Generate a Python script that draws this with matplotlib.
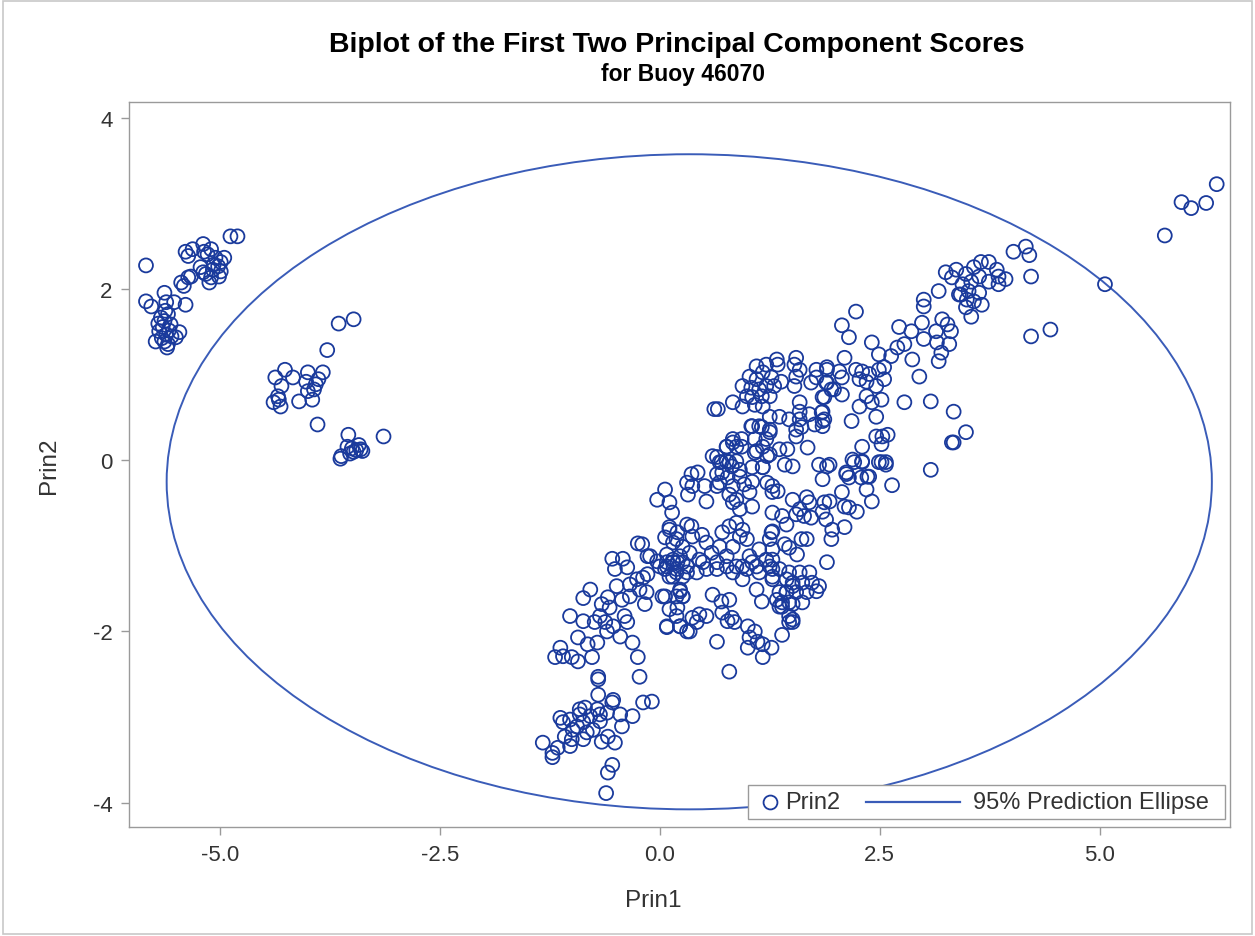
import matplotlib
matplotlib.use("Agg")
import matplotlib.pyplot as plt
from matplotlib.patches import Ellipse, Rectangle
from matplotlib.lines import Line2D

plt.rcParams['font.family'] = ['Liberation Sans', 'DejaVu Sans']

# ---- data: (Prin1, Prin2) scores ----
group_far_left = [(-5.84,2.28),(-4.88,2.62),(-4.80,2.62),(-5.39,2.44),(-5.36,2.39),(-5.31,2.47),
    (-5.19,2.53),(-5.18,2.44),(-5.10,2.47),(-5.14,2.41),(-5.05,2.37),(-4.99,2.32),(-4.95,2.37),
    (-5.02,2.27),(-5.08,2.23),(-4.99,2.21),(-5.01,2.15),(-5.10,2.14),(-5.12,2.08),(-5.16,2.18),
    (-5.22,2.26),(-5.19,2.20),(-5.07,2.29),(-5.41,2.04),(-5.36,2.14),(-5.33,2.15),(-5.44,2.08),
    (-5.84,1.86),(-5.78,1.80),(-5.63,1.96),(-5.61,1.85),(-5.52,1.85),(-5.39,1.82),(-5.67,1.67),
    (-5.63,1.63),(-5.59,1.71),(-5.65,1.56),(-5.56,1.59),(-5.61,1.47),(-5.46,1.50),(-5.63,1.39),
    (-5.73,1.39),(-5.59,1.36),(-5.60,1.32),(-5.50,1.44),(-5.69,1.51),(-5.62,1.75),(-5.58,1.52),
    (-5.55,1.45),(-5.66,1.43),(-5.70,1.60)]

group_left = [(-3.65,1.60),(-3.48,1.65),(-3.78,1.29),(-4.37,0.97),(-4.26,1.06),(-4.17,0.97),
    (-4.30,0.87),(-4.34,0.75),(-4.39,0.68),(-4.31,0.63),(-4.33,0.71),(-4.00,1.03),(-3.83,1.03),
    (-3.88,0.95),(-4.02,0.92),(-3.91,0.89),(-3.93,0.83),(-4.00,0.81),(-3.95,0.71),(-4.10,0.69),
    (-3.89,0.42),(-3.54,0.30),(-3.14,0.28),(-3.55,0.16),(-3.50,0.14),(-3.45,0.12),(-3.40,0.13),
    (-3.48,0.10),(-3.52,0.08),(-3.42,0.18),(-3.38,0.11),(-3.63,0.02),(-3.62,0.05)]

group_low = [(-0.70,-2.56),(-0.70,-2.53),(-0.23,-2.53),(-0.70,-2.74),(-0.53,-2.80),(-0.54,-2.83),
    (-0.19,-2.83),(-0.09,-2.82),(-0.31,-2.99),(-0.45,-2.97),(-0.43,-3.11),(-0.59,-3.23),(-0.51,-3.30),
    (-0.66,-3.29),(-0.54,-3.56),(-0.59,-3.65),(-0.61,-3.89),(-1.13,-3.01),(-1.10,-3.06),(-1.02,-3.03),
    (-0.91,-2.91),(-0.85,-2.89),(-0.87,-3.06),(-0.79,-2.99),(-0.71,-2.91),(-0.68,-2.97),(-0.76,-3.15),
    (-0.83,-3.18),(-0.99,-3.15),(-1.08,-3.23),(-1.00,-3.26),(-0.87,-3.26),(-1.02,-3.34),(-1.16,-3.36),
    (-1.33,-3.30),(-1.22,-3.42),(-1.22,-3.47),(-0.94,-3.11),(-0.91,-2.97),(-0.68,-3.05),(-0.60,-2.95)]

group_mid_low = [(-0.79,-1.51),(-0.87,-1.61),(-0.25,-0.97),(-0.54,-1.15),(-0.42,-1.15),(-0.51,-1.27),
    (-0.37,-1.25),(-0.14,-1.12),(-0.03,-1.18),(0.08,-1.10),(0.15,-1.16),(0.06,-1.27),(-0.49,-1.47),
    (-0.59,-1.60),(-0.66,-1.68),(-0.57,-1.72),(-0.34,-1.45),(-0.26,-1.39),(-0.19,-1.37),(-0.14,-1.33),
    (-0.23,-1.51),(-0.15,-1.54),(-0.17,-1.68),(-0.34,-1.59),(-0.43,-1.63),(0.03,-1.59),(-1.02,-1.82),
    (-0.87,-1.88),(-0.74,-1.89),(-0.68,-1.82),(-0.62,-1.89),(-0.60,-2.00),(-0.53,-1.94),(-0.40,-1.82),
    (-0.37,-1.89),(-0.93,-2.07),(-0.82,-2.15),(-0.71,-2.13),(-0.45,-2.06),(-0.31,-2.13),(-0.25,-2.30),
    (-0.77,-2.30),(-1.13,-2.19),(-1.19,-2.30),(-1.10,-2.29),(-1.00,-2.30),(-0.93,-2.35),(0.11,-1.74),
    (0.19,-1.82),(0.23,-1.94),(0.08,-1.94),(0.31,-2.00),(0.23,-1.51),(0.26,-1.59),(0.11,-0.78),
    (0.20,-0.84),(0.31,-0.75),(0.15,-0.96),(0.20,-1.19),(0.08,-1.19),(0.19,-1.31),(0.19,-1.59)]

group_center = [(0.06,-0.34),(-0.03,-0.46),(0.11,-0.49),(0.14,-0.61),(0.36,-0.16),(0.43,-0.14),
    (0.31,-0.26),(0.37,-0.30),(0.51,-0.30),(0.32,-0.40),(0.53,-0.48),(0.65,0.04),(0.70,-0.02),
    (0.76,-0.01),(0.82,-0.07),(0.87,-0.01),(0.65,-0.16),(0.71,-0.14),(0.77,-0.20),(0.68,-0.26),
    (0.91,-0.19),(0.83,-0.30),(0.65,-0.30),(0.79,-0.40),(0.87,-0.46),(0.91,-0.57),(1.02,-0.37),
    (1.05,-0.54),(0.83,-0.49),(0.76,0.16),(0.83,0.21),(0.93,0.16),(1.05,0.40),(1.13,0.40),(1.25,0.33),
    (1.10,0.11),(1.22,0.05),(1.17,-0.08),(1.22,-0.26),(1.28,-0.37),(1.05,-0.25),(0.96,-0.28),
    (0.36,-0.77),(0.11,-0.81),(0.06,-0.90),(0.19,-0.92),(0.26,-1.01),(0.37,-0.89),(0.48,-0.87),
    (0.53,-0.96),(0.34,-1.08),(0.23,-1.12),(0.15,-1.19),(0.31,-1.24),(0.45,-1.16),(0.59,-1.08),
    (0.68,-1.01),(0.71,-0.84),(0.79,-0.77),(0.87,-0.73),(0.94,-0.81),(0.91,-0.89),(0.99,-0.92),
    (0.83,-1.01),(0.76,-1.12),(0.65,-1.19),(0.53,-1.27),(0.42,-1.31),(0.26,-1.36),(0.11,-1.36),
    (0.00,-1.24),(-0.11,-1.12),(-0.20,-0.98),(1.02,-1.12),(1.10,-1.24),(1.13,-1.04),(1.25,-0.92),
    (1.27,-0.84),(1.21,-1.16),(0.94,-1.24),(0.83,-1.31)]

group_center_low = [(0.06,-1.59),(0.23,-1.53),(0.26,-1.59),(0.20,-1.72),(0.08,-1.95),(0.23,-1.94),
    (0.34,-2.00),(0.42,-1.89),(0.45,-1.80),(0.53,-1.82),(0.37,-1.84),(0.60,-1.57),(0.70,-1.65),
    (0.79,-1.63),(0.71,-1.78),(0.82,-1.84),(0.85,-1.89),(0.77,-1.88),(0.65,-2.12),(0.79,-2.47),
    (1.00,-1.94),(1.08,-2.00),(1.02,-2.07),(1.00,-2.19),(1.11,-2.12),(1.17,-2.15),(1.27,-2.19),
    (1.17,-2.30),(1.39,-2.04),(1.51,-1.89),(1.10,-1.51),(1.16,-1.65),(1.36,-1.71),(1.44,-1.54),
    (0.08,-1.24),(0.19,-1.27),(0.26,-1.19),(0.15,-1.36),(0.31,-1.31),(0.49,-1.19),(0.65,-1.27),
    (0.76,-1.24),(0.87,-1.24),(0.99,-1.27),(1.05,-1.19),(0.94,-1.39),(1.13,-1.31),(1.25,-1.24),
    (1.28,-1.39),(1.36,-1.27),(1.44,-1.39),(1.51,-1.47),(1.36,-1.54),(1.39,-1.71),(1.47,-1.66),
    (1.51,-1.86),(1.47,-1.89)]

group_upper_mid = [(0.62,0.60),(0.66,0.60),(1.10,1.10),(1.21,1.12),(1.33,1.18),(1.34,1.12),(1.02,0.98),
    (1.10,0.95),(1.17,1.03),(1.27,0.97),(1.38,0.92),(0.94,0.87),(1.04,0.85),(1.13,0.83),(1.21,0.87),
    (1.30,0.87),(0.99,0.75),(1.05,0.74),(1.16,0.75),(1.25,0.75),(0.83,0.68),(0.94,0.63),(1.08,0.65),
    (1.17,0.63),(1.55,1.20),(1.53,1.12),(1.59,1.06),(1.55,0.98),(1.53,0.87),(1.78,1.06),(1.90,1.06),
    (1.78,0.97),(1.89,0.91),(1.95,0.83),(1.85,0.74),(1.72,0.91),(1.59,0.68),(1.59,0.57),(1.59,0.48),
    (1.61,0.39),(1.70,0.54),(1.76,0.42),(1.85,0.57),(1.87,0.48),(1.85,0.40),(1.47,0.48),(1.36,0.51),
    (1.25,0.51),(1.04,0.40),(1.16,0.39),(1.25,0.36),(1.55,0.36),(1.55,0.28),(0.83,0.25),(0.93,0.25),
    (0.76,0.16),(0.87,0.16),(1.08,0.25),(1.17,0.16),(1.08,0.09),(1.25,0.07),(1.36,0.13),(1.45,0.13),
    (1.21,0.25),(1.68,0.15),(0.60,0.05),(0.68,-0.02),(0.79,-0.02),(0.91,-0.11),(1.05,-0.08),
    (1.17,-0.08),(1.42,-0.05),(1.51,-0.07),(1.81,-0.05),(1.90,-0.07)]

group_right_mid = [(1.85,-0.22),(2.21,-0.02),(2.30,-0.02),(2.49,-0.02),(2.57,-0.05),(2.15,-0.20),
    (2.12,-0.14),(2.29,-0.20),(2.38,-0.19),(2.35,-0.34),(2.41,-0.48),(2.64,-0.29),(2.07,-0.37),
    (2.10,-0.54),(2.15,-0.55),(2.24,-0.60),(1.51,-0.46),(1.67,-0.43),(1.70,-0.49),(1.59,-0.57),
    (1.64,-0.65),(1.72,-0.67),(1.55,-0.63),(1.39,-0.65),(1.44,-0.75),(1.87,-0.49),(1.93,-0.48),
    (1.85,-0.60),(1.89,-0.69),(1.96,-0.81),(2.10,-0.78),(1.95,-0.92),(1.90,-1.19),(1.42,-0.98),
    (1.47,-1.02),(1.61,-0.92),(1.67,-0.92),(1.56,-1.10),(1.28,-0.30),(1.34,-0.36),(1.28,-0.61),
    (1.28,-0.83),(1.28,-1.04),(1.28,-1.16),(1.28,-1.27),(1.28,-1.36),(1.47,-1.31),(1.59,-1.31),
    (1.70,-1.31),(1.51,-1.43),(1.62,-1.43),(1.73,-1.43),(1.81,-1.47),(1.44,-1.54),(1.55,-1.54),
    (1.67,-1.54),(1.78,-1.53),(1.39,-1.66),(1.51,-1.68),(1.62,-1.66),(1.33,-1.63),(1.47,-1.82)]

group_upper_right = [(2.23,1.74),(2.07,1.58),(2.15,1.44),(2.41,1.38),(2.72,1.56),(2.86,1.51),
    (2.98,1.61),(3.00,1.42),(3.14,1.51),(3.21,1.65),(3.27,1.59),(3.31,1.51),(3.15,1.38),(3.20,1.26),
    (3.29,1.36),(3.17,1.16),(2.49,1.24),(2.63,1.22),(2.70,1.32),(2.78,1.36),(2.87,1.18),(2.95,0.98),
    (2.10,1.20),(1.90,1.09),(2.04,1.04),(2.07,0.97),(2.23,1.06),(2.30,1.04),(2.38,1.01),(2.49,1.06),
    (2.55,1.09),(2.55,0.95),(2.46,0.87),(2.27,0.95),(2.35,0.92),(1.90,0.91),(1.98,0.83),(2.07,0.77),
    (2.35,0.75),(2.52,0.71),(2.27,0.63),(2.41,0.68),(2.46,0.51),(2.18,0.46),(1.84,0.56),(1.85,0.46),
    (1.87,0.74),(2.78,0.68),(3.08,0.69),(3.34,0.57),(2.46,0.28),(2.53,0.28),(2.59,0.30),(2.52,0.19),
    (2.30,0.16),(2.19,0.01),(2.30,-0.01),(2.52,-0.02),(2.57,-0.02),(3.08,-0.11),(3.32,0.21),
    (1.93,-0.05),(2.12,-0.16),(2.36,-0.19),(3.48,0.33),(3.34,0.21)]

group_far_right = [(4.02,2.44),(4.16,2.50),(4.20,2.40),(4.22,2.15),(3.25,2.20),(3.37,2.23),(3.32,2.14),
    (3.48,2.18),(3.57,2.26),(3.65,2.32),(3.74,2.32),(3.83,2.23),(3.93,2.12),(3.85,2.06),(3.74,2.09),
    (3.63,2.15),(3.54,2.09),(3.44,2.06),(3.42,1.94),(3.51,1.98),(3.63,1.96),(3.57,1.86),(3.66,1.82),
    (3.48,1.79),(3.54,1.68),(3.40,1.94),(3.17,1.98),(3.00,1.88),(3.00,1.80),(3.85,2.15),(3.49,1.88),
    (4.22,1.45),(4.44,1.53),(6.33,3.23),(5.93,3.02),(6.04,2.95),(6.21,3.01),(5.74,2.63),(5.06,2.06)]

groups = [group_far_left, group_left, group_low, group_mid_low, group_center, group_center_low,
          group_upper_mid, group_right_mid, group_upper_right, group_far_right]

# 95% prediction ellipse parameters
ellipse_center = (0.335, -0.25)
ellipse_width = 11.88
ellipse_height = 7.66

xticks = [-5.0, -2.5, 0.0, 2.5, 5.0]
xtick_labels = ['-5.0', '-2.5', '0.0', '2.5', '5.0']
yticks = [-4, -2, 0, 2, 4]
ytick_labels = ['-4', '-2', '0', '2', '4']
legend_labels = ['Prin2', '95% Prediction Ellipse']

# ---- drawing ----
mark_color = '#1A3A9C'
line_color = '#3A5CB8'
axis_gray = '#9A9A9A'
text_color = '#333333'

fig = plt.figure(figsize=(12.55, 9.37), dpi=100)
fig.patch.set_facecolor('white')
fig.add_artist(Rectangle((0.002, 0.002), 0.996, 0.996, transform=fig.transFigure,
                         fill=False, edgecolor='#C8C8C8', linewidth=1.2))

ax = fig.add_axes([0.103, 0.116, 0.877, 0.774])

p1 = [p[0] for g in groups for p in g]
p2 = [p[1] for g in groups for p in g]
ax.scatter(p1, p2, s=100, facecolors='none', edgecolors=mark_color, linewidths=1.3, zorder=3)

ell = Ellipse(ellipse_center, ellipse_width, ellipse_height, fill=False,
              edgecolor=line_color, linewidth=1.4, zorder=2)
ax.add_patch(ell)

ax.set_xlim(-6.03, 6.48)
ax.set_ylim(-4.29, 4.19)
ax.set_xticks(xticks)
ax.set_xticklabels(xtick_labels)
ax.set_yticks(yticks)
ax.set_yticklabels(ytick_labels)

for sp in ax.spines.values():
    sp.set_color(axis_gray)
    sp.set_linewidth(1.0)
ax.tick_params(direction='out', length=6, width=1.0, color=axis_gray,
               labelsize=16, labelcolor=text_color, pad=6)

ax.set_xlabel('Prin1', fontsize=17.5, color=text_color, labelpad=14)
ax.xaxis.set_label_coords(0.476, -0.085)
ax.set_ylabel('Prin2', fontsize=17.5, color=text_color, labelpad=24)

fig.text(0.539, 0.952, 'Biplot of the First Two Principal Component Scores', ha='center',
         va='center', fontsize=20.5, fontweight='bold', color='black')
fig.text(0.544, 0.921, 'for Buoy 46070', ha='center', va='center', fontsize=16.5,
         fontweight='bold', color='black')

# legend box drawn in axes-fraction coordinates
ta = ax.transAxes
ax.add_patch(Rectangle((0.562, 0.011), 0.4335, 0.048, transform=ta, fill=True,
                       facecolor='white', edgecolor=axis_gray, linewidth=1.0, zorder=5))
ax.add_line(Line2D([0.582], [0.035], transform=ta, marker='o', linestyle='none',
                   markerfacecolor='none', markeredgecolor=mark_color, markersize=10,
                   markeredgewidth=1.3, zorder=6))
ax.text(0.596, 0.035, legend_labels[0], transform=ta, fontsize=17, color=text_color,
        va='center', ha='left', zorder=6)
ax.add_line(Line2D([0.669, 0.755], [0.035, 0.035], transform=ta, color=line_color,
                   linewidth=1.6, zorder=6))
ax.text(0.767, 0.035, legend_labels[1], transform=ta, fontsize=17, color=text_color,
        va='center', ha='left', zorder=6)

fig.savefig('out.png', dpi=100)
